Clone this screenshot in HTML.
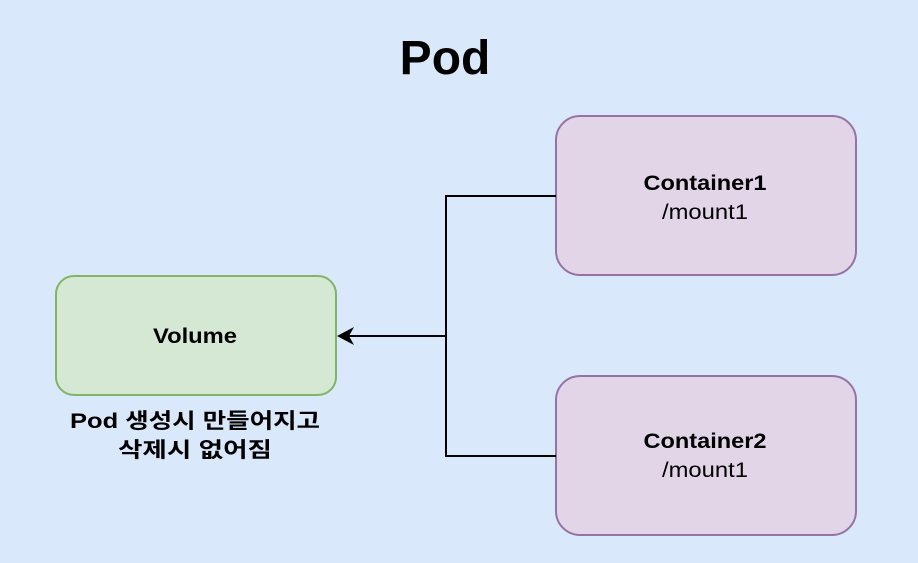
<!DOCTYPE html>
<html><head><meta charset="utf-8"><style>
html,body{margin:0;padding:0;width:918px;height:563px;background:#dae8fc;overflow:hidden}
</style></head><body>
<svg width="918" height="563" xmlns="http://www.w3.org/2000/svg" style="position:absolute;left:0;top:0">
<rect width="918" height="563" fill="#dae8fc"/>
<text x="445" y="74" text-anchor="middle" font-family="Liberation Sans, sans-serif" font-weight="bold" font-size="48">Pod</text>
<rect x="556" y="116" width="300" height="159" rx="24" fill="#e1d5e7" stroke="#9673a6" stroke-width="2"/>
<rect x="556" y="376" width="300" height="159" rx="24" fill="#e1d5e7" stroke="#9673a6" stroke-width="2"/>
<rect x="56" y="276" width="280" height="119" rx="18" fill="#d5e8d4" stroke="#82b366" stroke-width="2"/>
<path d="M556 196 H446 V456 H556 M446 336 H346" fill="none" stroke="#000" stroke-width="2"/>
<path d="M337 336 L354 327 L349 336 L354 345 Z" fill="#000"/>
<g font-family="Liberation Sans, sans-serif" font-size="21" text-anchor="middle" lengthAdjust="spacingAndGlyphs">
<text x="705" y="190" font-weight="bold" textLength="123" lengthAdjust="spacingAndGlyphs">Container1</text>
<text x="705" y="219" textLength="86" lengthAdjust="spacingAndGlyphs">/mount1</text>
<text x="705" y="448" font-weight="bold" textLength="123" lengthAdjust="spacingAndGlyphs">Container2</text>
<text x="705" y="477" textLength="86" lengthAdjust="spacingAndGlyphs">/mount1</text>
<text x="195" y="343" font-weight="bold" textLength="84" lengthAdjust="spacingAndGlyphs">Volume</text>
</g>
<g font-family="Liberation Sans, 'Noto Sans CJK KR', sans-serif" font-size="21" font-weight="bold" text-anchor="middle">
<text x="195" y="428" textLength="250" lengthAdjust="spacingAndGlyphs">Pod 생성시 만들어지고</text>
<text x="195" y="457" textLength="154" lengthAdjust="spacingAndGlyphs">삭제시 없어짐</text>
</g>
</svg>
</body></html>
